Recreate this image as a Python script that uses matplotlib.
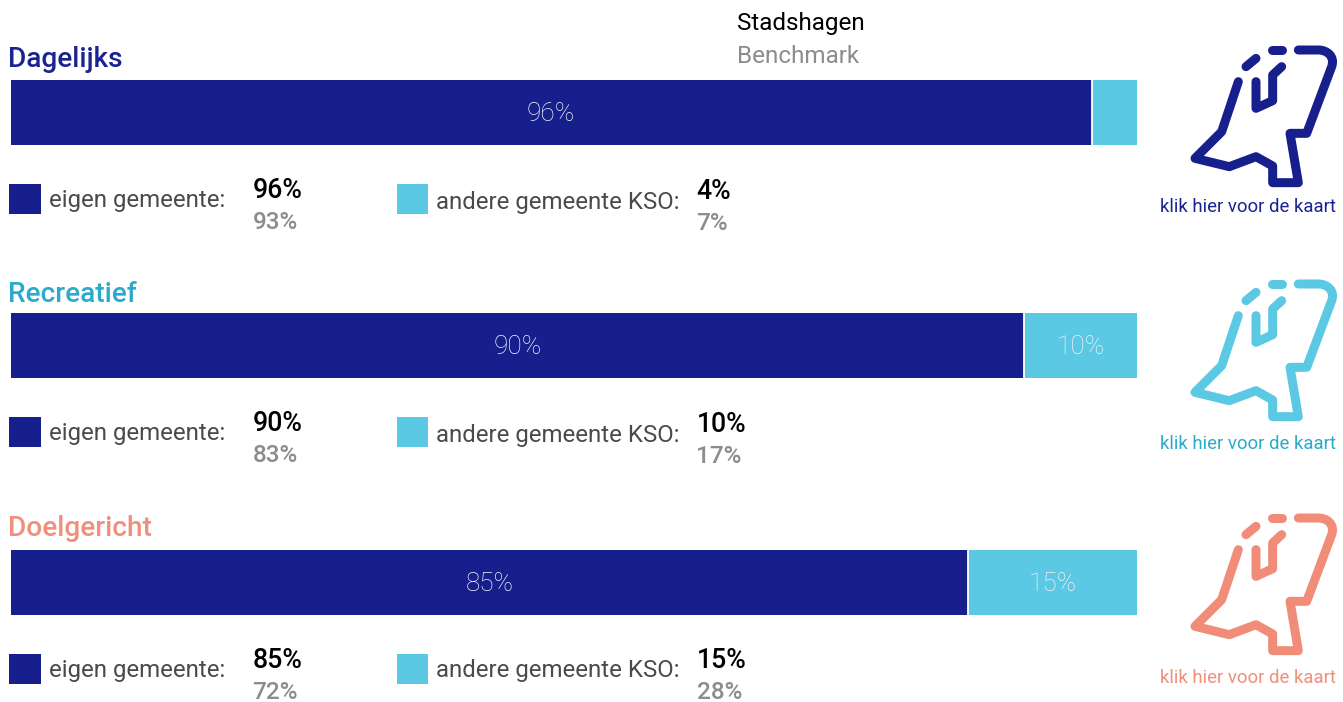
import matplotlib
matplotlib.use("Agg")
import matplotlib.pyplot as plt
from matplotlib.path import Path
from matplotlib.patches import PathPatch, Rectangle
from matplotlib.transforms import blended_transform_factory

categories = ["Dagelijks", "Recreatief", "Doelgericht"]
eigen = [96, 90, 85]
andere = [4, 10, 15]
eigen_bench = [93, 83, 72]
andere_bench = [7, 17, 28]
title_colors = ["#1a2390", "#2aabcb", "#f08f7c"]
icon_colors = ["#161f8c", "#5bc8e4", "#f08c78"]
label_colors = ["#1a2390", "#2aabcb", "#f08f7c"]
NAVY, SKY = "#161f8c", "#5bc8e4"

W, H = 1343, 702
plt.rcParams["font.family"] = ["Roboto", "DejaVu Sans"]
fig = plt.figure(figsize=(W / 100, H / 100), dpi=100)
ov = fig.add_axes([0, 0, 1, 1], zorder=2)
ov.set_xlim(0, W); ov.set_ylim(H, 0); ov.axis("off")
px = 0.72

bar_tops = [80, 313, 550]
bar_bots = [145, 378, 614.5]
label_base = [121.2, 354.5, 591.2]
title_base = [66.7, 301.5, 535.5]
eig_base = [206.5, 440, 676.7]
and_base = [208.7, 441.7, 677.3]
v1_base = [197.7, 430.7, 667.7]
v2_base = [229, 461.7, 699]
w1_base = [199, 431.7, 668.3]
w2_base = [229.5, 462.7, 699.3]
sq_top = [184, 417, 654]
icon_dy = [0, 234, 468]
link_base = [212, 449, 683]

def icon(dy, c):
    pts = lambda L: [(1150 + x / 3, 30 + y / 3 + dy) for x, y in L]
    main = pts([(265, 155), (215, 305), (135, 385), (238, 410), (318, 380), (368, 408), (368, 458),
                (445, 458), (420, 310), (470, 310), (545, 110)])
    curve = pts([(556, 78), (530, 60), (505, 60)])
    tail = pts([(445, 60)])
    verts = main + curve + tail
    codes = [Path.MOVETO] + [Path.LINETO] * (len(main) - 1) + [Path.CURVE4] * 3 + [Path.LINETO]
    segs = [(verts, codes)]
    for L in ([(318, 155), (318, 235), (368, 212), (368, 135), (395, 110)],
              [(288, 110), (318, 85)], [(365, 60), (395, 60)]):
        v = pts(L)
        segs.append((v, [Path.MOVETO] + [Path.LINETO] * (len(v) - 1)))
    for v, k in segs:
        ov.add_patch(PathPatch(Path(v, k), fill=False, ec=c, lw=9 * px,
                               capstyle="round", joinstyle="round"))

base = dict(ha="left", va="baseline")
for i, cat in enumerate(categories):
    h = bar_bots[i] - bar_tops[i]
    ax = fig.add_axes([10.5 / W, 1 - bar_bots[i] / H, 1126.5 / W, h / H], zorder=1)
    ax.barh([0], [eigen[i]], height=1, color=NAVY, edgecolor="none")
    ax.barh([0], [andere[i]], left=[eigen[i]], height=1, color=SKY, edgecolor="none")
    ax.axvline(eigen[i], color="white", lw=1.3)
    ax.set_xlim(0, 100); ax.set_ylim(-0.5, 0.5); ax.axis("off")
    tr = blended_transform_factory(ax.transData, ov.transData)
    tk = dict(color="#f2f3fa", fontsize=18.8, ha="center", va="baseline", fontweight="light",
              transform=tr, zorder=5)
    ax.text(eigen[i] / 2, label_base[i], f"{eigen[i]}%", **tk)
    if andere[i] >= 10:
        ax.text(eigen[i] + andere[i] / 2, label_base[i], f"{andere[i]}%", **tk)

    ov.text(8, title_base[i], cat, color=title_colors[i], fontsize=20.2, fontweight="medium", **base)
    ov.add_patch(Rectangle((9, sq_top[i]), 32, 30, fc=NAVY, ec="none"))
    ov.add_patch(Rectangle((397, sq_top[i]), 31, 30, fc=SKY, ec="none"))
    ov.text(49, eig_base[i], "eigen gemeente:", color="#4a4a4a", fontsize=17.3, **base)
    ov.text(435.5, and_base[i], "andere gemeente KSO:", color="#4a4a4a", fontsize=17.3, **base)
    ov.text(252.5, v1_base[i], f"{eigen[i]}%", color="black", fontsize=19.2, fontweight="medium", **base)
    ov.text(252.5, v2_base[i], f"{eigen_bench[i]}%", color="#8c8c8c", fontsize=17.5, fontweight="medium", **base)
    ov.text(696.5, w1_base[i], f"{andere[i]}%", color="black", fontsize=19.2, fontweight="medium", **base)
    ov.text(696.5, w2_base[i], f"{andere_bench[i]}%", color="#8c8c8c", fontsize=17.5, fontweight="medium", **base)
    icon(icon_dy[i], icon_colors[i])
    ov.text(1247.5, link_base[i], "klik hier voor de kaart", color=label_colors[i], fontsize=13.45,
            ha="center", va="baseline")

ov.text(737, 30.2, "Stadshagen", color="black", fontsize=17.5, **base)
ov.text(737, 62.7, "Benchmark", color="#8c8c8c", fontsize=17.5, **base)

fig.savefig("out.png", dpi=100, facecolor="white")
